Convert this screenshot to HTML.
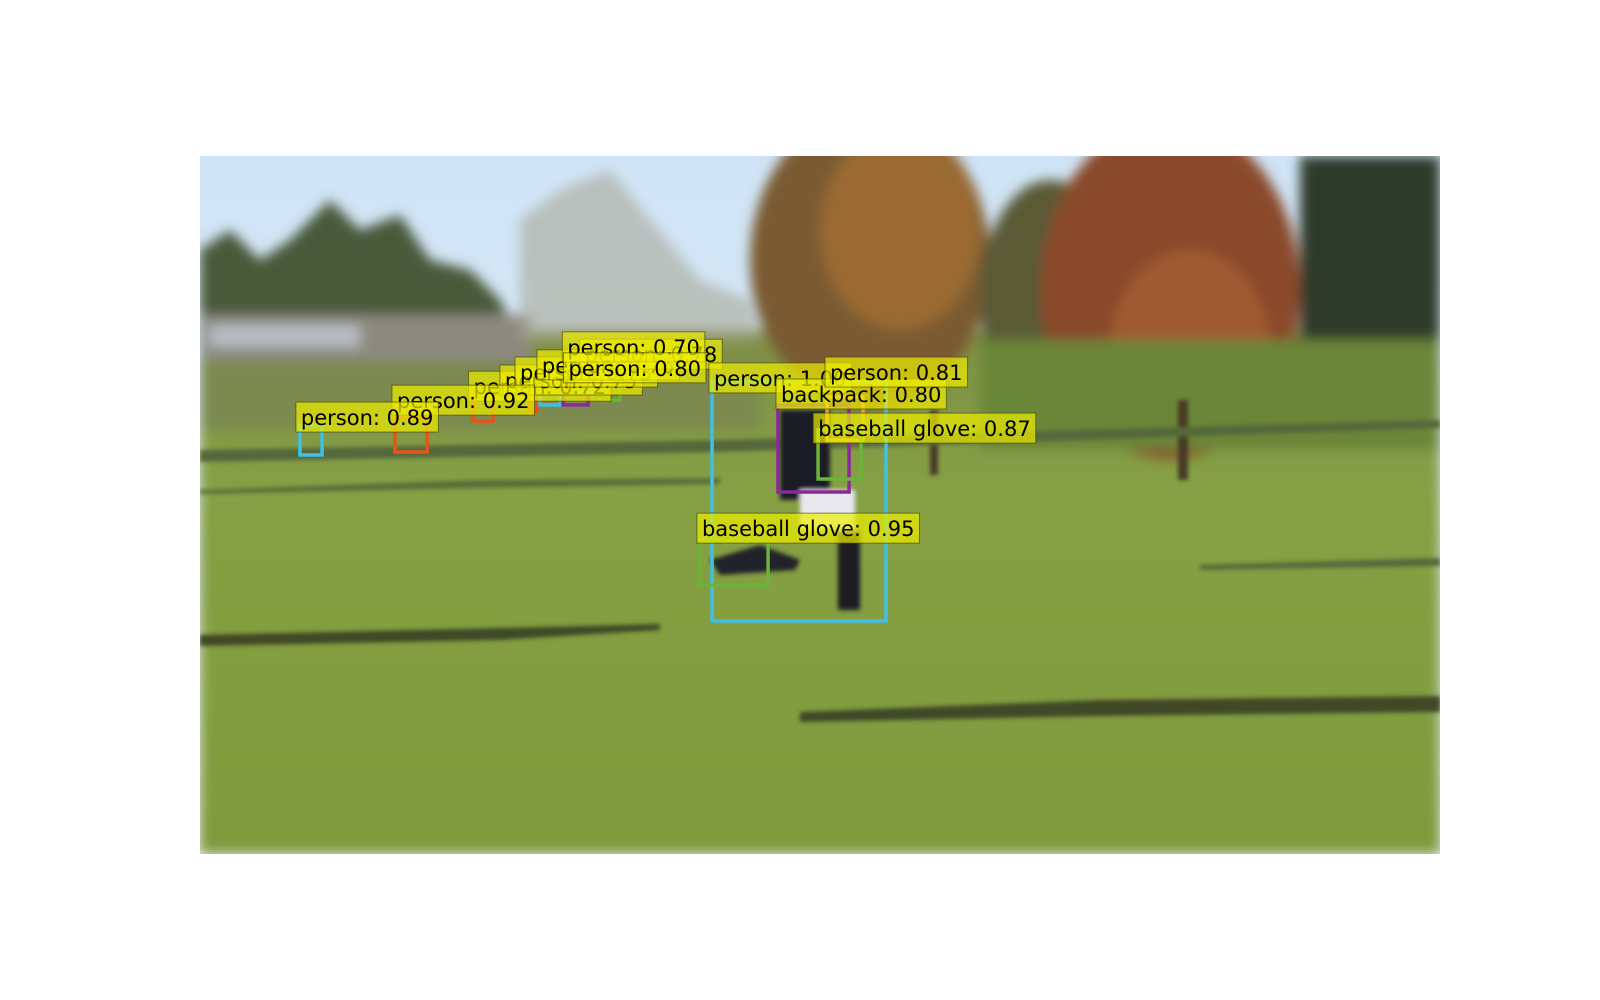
<!DOCTYPE html>
<html><head><meta charset="utf-8"><style>
html,body{margin:0;padding:0;background:#fff;}
svg{display:block;}
.lbl{font-family:"DejaVu Sans","Liberation Sans",sans-serif;font-size:21px;fill:#000;}
</style></head><body>
<svg id="chart" width="1600" height="1000" viewBox="0 0 1600 1000">
<defs>
<linearGradient id="sky" x1="0" y1="0" x2="0" y2="1"><stop offset="0" stop-color="#cfe4f6"/><stop offset="1" stop-color="#e6eef2"/></linearGradient>
<linearGradient id="grass" x1="0" y1="0" x2="0" y2="1"><stop offset="0" stop-color="#7e8f44"/><stop offset="0.3" stop-color="#86a044"/><stop offset="1" stop-color="#7f9a3c"/></linearGradient>
<filter id="blur"><feGaussianBlur stdDeviation="6"/></filter>
<filter id="blur2"><feGaussianBlur stdDeviation="2"/></filter>
<clipPath id="imgclip"><rect x="200" y="156" width="1240" height="698"/></clipPath>
</defs>
<g id="photo" clip-path="url(#imgclip)">
<rect x="200" y="156" width="1240" height="698" fill="url(#sky)"/>
<g filter="url(#blur)">
<rect x="200" y="330" width="1240" height="524" fill="url(#grass)"/>
<polygon points="200,340 200,250 230,230 260,260 290,240 330,200 360,230 400,215 430,260 470,270 500,300 520,340" fill="#4a5a3a"/>
<rect x="200" y="315" width="330" height="50" fill="#8c8a80"/>
<rect x="210" y="325" width="150" height="22" fill="#b8bcc4"/>
<polygon points="520,340 520,220 560,190 610,170 650,220 700,280 750,300 760,340" fill="#a8a898" opacity="0.6"/>
<ellipse cx="870" cy="260" rx="120" ry="150" fill="#7a5a30"/>
<ellipse cx="900" cy="230" rx="80" ry="100" fill="#9a6a30"/>
<ellipse cx="1050" cy="300" rx="70" ry="120" fill="#5a5a35"/>
<ellipse cx="1170" cy="290" rx="130" ry="170" fill="#8a4a2a"/>
<ellipse cx="1190" cy="350" rx="80" ry="100" fill="#a05a30"/>
<rect x="1300" y="156" width="140" height="200" fill="#2e3a2a"/>
<rect x="980" y="340" width="460" height="110" fill="#6a8638"/>
<rect x="200" y="360" width="560" height="70" fill="#7c8a50"/>
</g>
<g filter="url(#blur2)">
<rect x="1178" y="400" width="10" height="80" fill="#4a3a25"/>
<rect x="930" y="410" width="8" height="65" fill="#4a3a25"/>
<polygon points="200,450 720,440 1440,420 1440,428 720,452 200,462" fill="#55683a"/>
<polygon points="200,490 480,480 720,478 720,484 480,488 200,494" fill="#5a6d38"/>
<polygon points="200,635 500,628 660,624 660,630 500,640 200,646" fill="#3f4a28"/>
<polygon points="800,712 1100,700 1440,696 1440,712 1100,716 800,722" fill="#3f4a28"/>
<polygon points="1200,565 1440,558 1440,566 1200,570" fill="#56683a"/>
<rect x="780" y="410" width="50" height="90" fill="#1e1e28"/>
<rect x="800" y="490" width="55" height="40" fill="#e8e8ee"/>
<rect x="838" y="530" width="22" height="80" fill="#1c1c22"/>
<polygon points="710,560 760,545 800,560 795,570 720,575" fill="#22222a"/>
</g>
</g>
<g id="detections"></g>
</svg>
<script>
// detection data in image coordinates (640x360 source frame)
const categories = ["person","person","person","person","person","person","person","person","person","person","person","person","person","backpack","baseball glove","baseball glove"];
const scores = [0.72,0.75,0.73,0.76,0.78,0.70,0.80,0.77,0.92,0.89,1.00,0.81,0.80,0.80,0.87,0.95];
const boxX1 = [140.9,170.3,175.5,187.4,206.5,195.0,196.0,150.0,100.6,51.6,264.3,323.6,298.3,298.3,319.0,258.1];
const boxY1 = [125.8,121.7,118.1,119.6,115.5,110.0,114.0,120.0,135.1,138.7,116.6,124.3,128.4,128.4,141.3,198.0];
const boxX2 = [151.2,173.9,185.8,200.3,216.8,200.0,202.0,160.0,117.2,63.0,354.1,342.2,335.0,335.0,341.2,293.2];
const boxY2 = [136.7,131.5,128.4,128.4,125.8,118.0,122.0,128.0,152.7,154.2,239.8,146.5,173.3,173.3,166.6,221.3];
const labelX = [138.6,154.8,162.6,173.9,196.0,187.0,187.6,0,99.1,49.5,262.7,322.6,297.3,297.3,316.5,256.5];
const labelY = [111.0,107.8,103.7,100.0,94.5,90.7,101.5,0,118.2,126.9,106.7,103.7,115.0,115.0,132.6,184.2];
const boxColors = ["#e8531a","#e8531a","#3ec0e8","#8a2a9a","#6ab43a","#e8531a","#3ec0e8","#e8531a","#e8531a","#3ec0e8","#3ec0e8","#e8a030","#8a2a9a","#8a2a9a","#6ab43a","#6ab43a"];
const order = [0,1,2,3,4,5,6,8,9,10,13,11,14,15];

const X0 = 200, Y0 = 156, SX = 1240/640, SY = 698/360;
function xs(v){ return X0 + v*SX; }
function ys(v){ return Y0 + v*SY; }

const NS = "http://www.w3.org/2000/svg";
const g = document.getElementById("detections");
order.forEach(i=>{
  const r = document.createElementNS(NS,"rect");
  r.setAttribute("x", xs(boxX1[i])); r.setAttribute("y", ys(boxY1[i]));
  r.setAttribute("width", xs(boxX2[i])-xs(boxX1[i])); r.setAttribute("height", ys(boxY2[i])-ys(boxY1[i]));
  r.setAttribute("fill","none"); r.setAttribute("stroke", boxColors[i]); r.setAttribute("stroke-width","3.5");
  
  
  g.appendChild(r);
});
order.forEach(i=>{
  const txt = categories[i] + ": " + scores[i].toFixed(2);
  const lg = document.createElementNS(NS,"g");
  
  
  const t = document.createElementNS(NS,"text");
  t.setAttribute("class","lbl");
  t.setAttribute("x", xs(labelX[i])+5);
  t.setAttribute("y", ys(labelY[i])+23);
  t.textContent = txt;
  const bg = document.createElementNS(NS,"rect");
  lg.appendChild(bg); lg.appendChild(t);
  g.appendChild(lg);
  const w = t.getComputedTextLength();
  bg.setAttribute("x", xs(labelX[i])); bg.setAttribute("y", ys(labelY[i]));
  bg.setAttribute("width", w+10); bg.setAttribute("height", 30);
  bg.setAttribute("fill","rgba(238,238,0,0.7)"); bg.setAttribute("stroke","rgba(60,60,0,0.6)"); bg.setAttribute("stroke-width","1");
});
</script>
</body></html>
